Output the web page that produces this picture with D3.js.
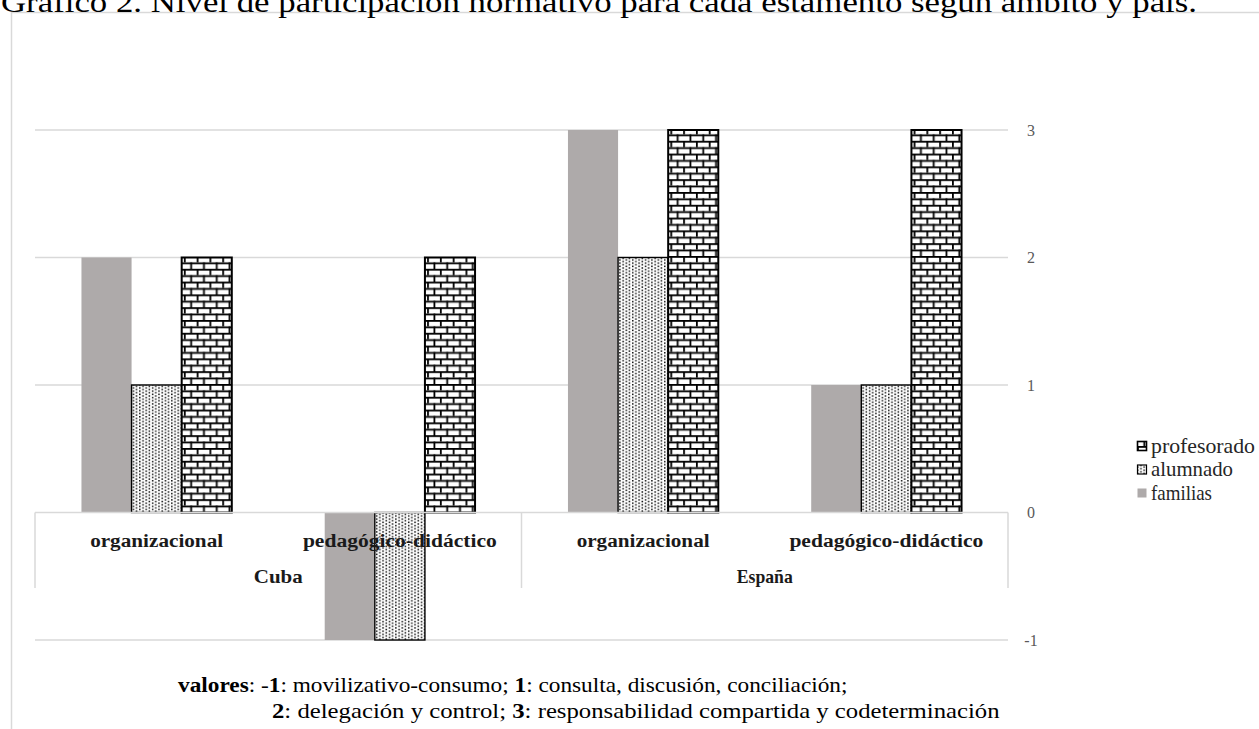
<!DOCTYPE html>
<html>
<head>
<meta charset="utf-8">
<script src="https://cdn.jsdelivr.net/npm/d3@7"></script>
<style>
  html, body { margin: 0; padding: 0; background: #fff; overflow: hidden; }
  svg { display: block; }
  svg text { font-family: "Liberation Serif", "Times New Roman", serif; }
</style>
</head>
<body>
<svg id="chart" width="1259" height="729"></svg>
<script>
// Niveles de participación por ámbito (organizacional / pedagógico-didáctico) y país
const countries = ["Cuba", "España"];
const ambitos = ["organizacional", "pedagógico-didáctico"];
const categories = ["Cuba|organizacional", "Cuba|pedagógico-didáctico", "España|organizacional", "España|pedagógico-didáctico"];
const seriesNames = ["familias", "alumnado", "profesorado"];
const familias = [2, -1, 3, 1];
const alumnado = [1, -1, 2, 1];
const profesorado = [2, 2, 3, 3];
const yTicks = [-1, 0, 1, 2, 3];
const legendOrder = ["profesorado", "alumnado", "familias"];
const titleText = "Gráfico 2. Nivel de participación normativo para cada estamento según ámbito y país.";
const noteLine1 = [["valores", true], [": -", false], ["1", true], [": movilizativo-consumo; ", false], ["1", true], [": consulta, discusión, conciliación;", false]];
const noteLine2 = [["2", true], [": delegación y control; ", false], ["3", true], [": responsabilidad compartida y codeterminación", false]];

const seriesValues = { familias, alumnado, profesorado };
const SERIF = "Liberation Serif, Times New Roman, serif";

const svg = d3.select("#chart");
const plot = { left: 35, right: 1008, top: 130, bottom: 640 };

// Patterns: brick for profesorado, dots for alumnado
const defs = svg.append("defs");
const brick = defs.append("pattern").attr("id", "brick")
  .attr("patternUnits", "userSpaceOnUse").attr("width", 12.8).attr("height", 12.8);
brick.append("rect").attr("width", 12.8).attr("height", 12.8).attr("fill", "#fff");
brick.append("rect").attr("x", 0).attr("y", 0).attr("width", 12.8).attr("height", 1.8).attr("fill", "#000");
brick.append("rect").attr("x", 0).attr("y", 6.4).attr("width", 12.8).attr("height", 1.8).attr("fill", "#000");
brick.append("rect").attr("x", 0).attr("y", 0).attr("width", 1.8).attr("height", 6.4).attr("fill", "#000");
brick.append("rect").attr("x", 6.4).attr("y", 6.4).attr("width", 1.8).attr("height", 6.4).attr("fill", "#000");

const dots = defs.append("pattern").attr("id", "dots")
  .attr("patternUnits", "userSpaceOnUse").attr("width", 6.4).attr("height", 6.4);
dots.append("rect").attr("width", 6.4).attr("height", 6.4).attr("fill", "#fff");
[[0, 0], [3.2, 1.6], [0, 3.2], [3.2, 4.8]].forEach(([x, y]) =>
  dots.append("rect").attr("x", x).attr("y", y).attr("width", 1.5).attr("height", 1.5).attr("fill", "#111"));

const fills = { familias: "#aeaaaa", alumnado: "url(#dots)", profesorado: "url(#brick)" };
const strokes = { familias: "none", alumnado: "#000", profesorado: "#000" };
const strokeW = { familias: 0, alumnado: 1.4, profesorado: 2 };

// Outer chart frame
svg.append("rect").attr("x", 11.5).attr("y", 12.5).attr("width", 1300).attr("height", 800)
  .attr("fill", "none").attr("stroke", "#d9d9d9").attr("stroke-width", 1.5);

// Title
svg.append("text").attr("x", 1).attr("y", 12)
  .attr("font-family", SERIF).attr("font-size", 29).attr("fill", "#000").text(titleText)
  .attr("textLength", 1196).attr("lengthAdjust", "spacingAndGlyphs");

// Scales
const x0 = d3.scaleBand().domain(categories).range([plot.left, plot.right])
  .paddingInner(0.382).paddingOuter(0.191);
const x1 = d3.scaleBand().domain(seriesNames).range([0, x0.bandwidth()]);
const y = d3.scaleLinear().domain([-1, 3]).range([plot.bottom, plot.top]);

// Gridlines
svg.append("g").selectAll("line").data(yTicks.filter(t => t !== 0)).join("line")
  .attr("x1", plot.left).attr("x2", plot.right)
  .attr("y1", d => y(d)).attr("y2", d => y(d))
  .attr("stroke", "#d9d9d9").attr("stroke-width", 1.5);

// Bars
const groups = svg.append("g").selectAll("g").data(categories).join("g")
  .attr("transform", d => `translate(${x0(d)},0)`);
groups.selectAll("rect")
  .data((c, i) => seriesNames.map(s => ({ s, v: seriesValues[s][i] })))
  .join("rect")
  .attr("x", d => x1(d.s))
  .attr("width", x1.bandwidth())
  .attr("y", d => Math.min(y(d.v), y(0)))
  .attr("height", d => Math.abs(y(d.v) - y(0)))
  .attr("fill", d => fills[d.s])
  .attr("stroke", d => strokes[d.s])
  .attr("stroke-width", d => strokeW[d.s]);

// Category axis box (two levels)
const axisG = svg.append("g");
axisG.append("line").attr("x1", plot.left).attr("x2", plot.right)
  .attr("y1", y(0)).attr("y2", y(0)).attr("stroke", "#d9d9d9").attr("stroke-width", 1.5);
const boxBottom = 588;
const countryEdges = [plot.left, (x0(categories[1]) + x0.bandwidth() + x0(categories[2])) / 2, plot.right];
axisG.selectAll("line.sep").data(countryEdges).join("line").attr("class", "sep")
  .attr("x1", d => d).attr("x2", d => d).attr("y1", y(0)).attr("y2", boxBottom)
  .attr("stroke", "#d9d9d9").attr("stroke-width", 1.5);

const ambitoWidths = { "organizacional": 133, "pedagógico-didáctico": 194 };
axisG.selectAll("text.amb").data(categories).join("text").attr("class", "amb")
  .attr("x", d => x0(d) + x0.bandwidth() / 2).attr("y", 547)
  .attr("text-anchor", "middle").attr("font-family", SERIF).attr("font-size", 18)
  .attr("font-weight", "bold").attr("fill", "#1a1a1a")
  .text(d => d.split("|")[1])
  .attr("textLength", d => ambitoWidths[d.split("|")[1]]).attr("lengthAdjust", "spacingAndGlyphs");

const countryWidths = { "Cuba": 49, "España": 56 };
axisG.selectAll("text.country").data(countries).join("text").attr("class", "country")
  .attr("x", (d, i) => (countryEdges[i] + countryEdges[i + 1]) / 2).attr("y", 583)
  .attr("text-anchor", "middle").attr("font-family", SERIF).attr("font-size", 19)
  .attr("font-weight", "bold").attr("fill", "#1a1a1a")
  .text(d => d)
  .attr("textLength", d => countryWidths[d]).attr("lengthAdjust", "spacingAndGlyphs");

// Value axis on the right
const yAxis = svg.append("g").attr("transform", `translate(${plot.right},0)`)
  .call(d3.axisRight(y).tickValues(yTicks).tickSize(0).tickPadding(23).tickFormat(d => String(d)));
yAxis.attr("font-family", SERIF);
yAxis.select(".domain").remove();
yAxis.selectAll("text").attr("font-family", SERIF).attr("font-size", 16)
  .attr("fill", "#595959").attr("text-anchor", "middle");

// Legend
const legend = svg.append("g").attr("transform", "translate(1137,446)");
const legendWidths = { profesorado: 104, alumnado: 82, familias: 61 };
const li = legend.selectAll("g").data(legendOrder).join("g")
  .attr("transform", (d, i) => `translate(0,${i * 23.5})`);
li.append("rect").attr("x", 0.5).attr("y", -4.5).attr("width", 9).attr("height", 9)
  .attr("fill", d => fills[d]).attr("stroke", d => d === "familias" ? "none" : "#000")
  .attr("stroke-width", d => d === "profesorado" ? 1.6 : 1.2);
li.append("text").attr("x", 14).attr("y", 6.5).attr("font-family", SERIF).attr("font-size", 21.5).attr("fill", "#262626")
  .text(d => d).attr("textLength", d => legendWidths[d]).attr("lengthAdjust", "spacingAndGlyphs");

// Notes under the chart
function noteLine(parts, x, yBase, width) {
  const t = svg.append("text").attr("y", 0).attr("font-family", SERIF).attr("font-size", 22).attr("fill", "#000");
  parts.forEach(([s, b]) => t.append("tspan").attr("font-family", SERIF).attr("font-weight", b ? "bold" : "normal").text(s));
  const w = t.node().getComputedTextLength();
  t.attr("transform", `translate(${x},${yBase}) scale(${width / w},1)`);
}
noteLine(noteLine1, 178, 692, 670);
noteLine(noteLine2, 272, 718, 728);
</script>
</body>
</html>
